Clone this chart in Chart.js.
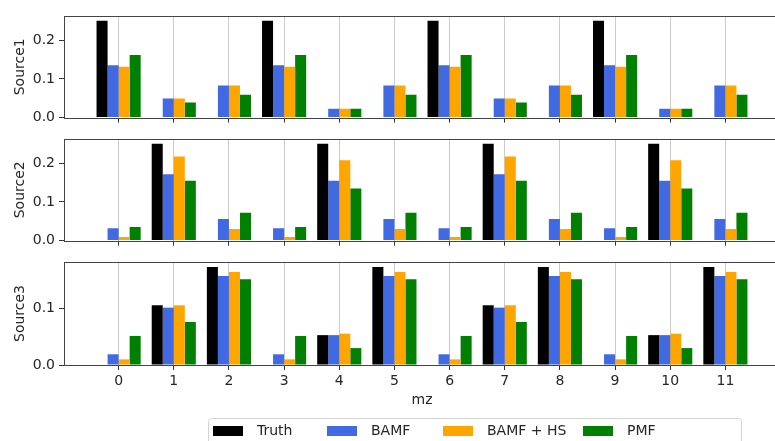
<!DOCTYPE html>
<html>
<head>
<meta charset="utf-8">
<script src="https://cdn.jsdelivr.net/npm/chart.js@4.4.1/dist/chart.umd.min.js"></script>
<style>
  html, body { margin: 0; padding: 0; width: 775px; height: 441px; overflow: hidden; background: #fff; }
  canvas { position: absolute; left: 0; display: block; }
  #chart1 { top: 0; }
  #chart2 { top: 123px; }
  #chart3 { top: 246px; }
</style>
</head>
<body>
<canvas id="chart1" width="790" height="130"></canvas>
<canvas id="chart2" width="790" height="130"></canvas>
<canvas id="chart3" width="790" height="195"></canvas>
<script>
'use strict';

// x categories (mz) and legend labels
const mz = [0, 1, 2, 3, 4, 5, 6, 7, 8, 9, 10, 11];
const seriesLabels = ['Truth', 'BAMF', 'BAMF + HS', 'PMF'];
const seriesColors = ['#000000', '#4169e1', '#ffa500', '#008000'];

// y tick labels
const yTicksWide = [0, 0.1, 0.2];
const yTicksShort = [0, 0.1];

// Source1
const source1Truth = [0.25, 0, 0, 0.25, 0, 0, 0.25, 0, 0, 0.25, 0, 0];
const source1Bamf = [0.135, 0.0495, 0.083, 0.135, 0.023, 0.083, 0.135, 0.0495, 0.083, 0.135, 0.023, 0.083];
const source1BamfHs = [0.1315, 0.0495, 0.083, 0.1315, 0.023, 0.083, 0.1315, 0.0495, 0.083, 0.1315, 0.023, 0.083];
const source1Pmf = [0.1615, 0.039, 0.059, 0.1615, 0.023, 0.059, 0.1615, 0.039, 0.059, 0.1615, 0.023, 0.059];

// Source2
const source2Truth = [0, 0.25, 0, 0, 0.25, 0, 0, 0.25, 0, 0, 0.25, 0];
const source2Bamf = [0.032, 0.1717, 0.0558, 0.032, 0.1545, 0.0558, 0.032, 0.1717, 0.0558, 0.032, 0.1545, 0.0558];
const source2BamfHs = [0.0094, 0.217, 0.030, 0.0094, 0.2077, 0.030, 0.0094, 0.217, 0.030, 0.0094, 0.2077, 0.030];
const source2Pmf = [0.035, 0.1545, 0.072, 0.035, 0.1348, 0.072, 0.035, 0.1545, 0.072, 0.035, 0.1348, 0.072];

// Source3
const source3Truth = [0, 0.106, 0.174, 0, 0.053, 0.174, 0, 0.106, 0.174, 0, 0.053, 0.174];
const source3Bamf = [0.019, 0.1018, 0.158, 0.019, 0.053, 0.158, 0.019, 0.1018, 0.158, 0.019, 0.053, 0.158];
const source3BamfHs = [0.010, 0.106, 0.165, 0.010, 0.0556, 0.165, 0.010, 0.106, 0.165, 0.010, 0.0556, 0.165];
const source3Pmf = [0.0515, 0.0763, 0.152, 0.0515, 0.030, 0.152, 0.0515, 0.0763, 0.152, 0.0515, 0.030, 0.152];

Chart.defaults.font.family = "'DejaVu Sans', sans-serif";
Chart.defaults.font.size = 14;
Chart.defaults.color = '#262626';

// box round the plot area, like the matplotlib spines
const framePlugin = {
  id: 'frame',
  afterDraw(chart) {
    const { ctx, chartArea: a } = chart;
    ctx.save();
    ctx.strokeStyle = '#444';
    ctx.lineWidth = 1;
    ctx.strokeRect(Math.round(a.left) + 0.5, Math.round(a.top) + 0.5,
      Math.round(a.right - a.left), Math.round(a.bottom - a.top));
    ctx.restore();
  }
};

// framed legend under the last panel (partly cut off at the bottom)
const legendPlugin = {
  id: 'boxLegend',
  afterDraw(chart) {
    const ctx = chart.ctx;
    const patchX = [213, 327, 443, 583];
    const midY = 185;
    ctx.save();
    ctx.beginPath();
    ctx.roundRect(208.5, 172.5, 533, 40, 3);
    ctx.fillStyle = 'rgba(255,255,255,0.8)';
    ctx.fill();
    ctx.strokeStyle = '#d4d4d4';
    ctx.lineWidth = 1;
    ctx.stroke();
    ctx.font = "14px 'DejaVu Sans', sans-serif";
    ctx.textBaseline = 'middle';
    ctx.textAlign = 'left';
    chart.data.datasets.forEach((ds, i) => {
      ctx.fillStyle = ds.backgroundColor;
      ctx.fillRect(patchX[i], midY - 5, 30, 10);
      ctx.fillStyle = '#262626';
      ctx.fillText(ds.label, patchX[i] + 44, midY);
    });
    ctx.restore();
  }
};

function buildDatasets(series) {
  return series.map((values, i) => ({
    label: seriesLabels[i],
    data: values,
    backgroundColor: seriesColors[i],
    borderWidth: 0,
    categoryPercentage: 0.8,
    barPercentage: 1.0
  }));
}

function makePanel(canvasId, title, series, yMax, yTicks, isBottom) {
  const ctx = document.getElementById(canvasId).getContext('2d');
  const plugins = [framePlugin];
  if (isBottom) {
    plugins.push(legendPlugin);
  }

  return new Chart(ctx, {
    type: 'bar',
    data: {
      labels: mz,
      datasets: buildDatasets(series)
    },
    plugins: plugins,
    options: {
      responsive: false,
      animation: false,
      devicePixelRatio: 1,
      layout: {
        padding: { top: 16, right: 10, bottom: isBottom ? 0 : 7, left: 0 }
      },
      plugins: {
        legend: { display: false },
        tooltip: { enabled: false }
      },
      scales: {
        x: {
          type: 'linear',
          min: -0.99,
          max: 11.99,
          offset: false,
          afterBuildTicks: axis => {
            axis.ticks = mz.map(v => ({ value: v }));
          },
          afterFit: axis => {
            axis.height = isBottom ? 76 : 5;
          },
          ticks: {
            display: isBottom,
            autoSkip: false,
            maxRotation: 0,
            padding: 3,
            callback: value => String(value)
          },
          grid: {
            offset: false,
            color: '#cccccc',
            lineWidth: 1,
            tickLength: 5,
            tickColor: '#333'
          },
          border: { display: false },
          title: {
            display: isBottom,
            text: 'mz',
            padding: { top: 0, bottom: 32 }
          }
        },
        y: {
          min: 0,
          max: yMax,
          afterBuildTicks: axis => {
            axis.ticks = yTicks.map(v => ({ value: v }));
          },
          afterFit: axis => {
            axis.width = 64;
          },
          ticks: {
            padding: 4,
            callback: value => value.toFixed(1)
          },
          grid: {
            drawOnChartArea: false,
            tickLength: 5,
            tickColor: '#333'
          },
          border: { display: false },
          title: {
            display: true,
            text: title,
            padding: { top: 12, bottom: 0 }
          }
        }
      }
    }
  });
}

makePanel('chart1', 'Source1', [source1Truth, source1Bamf, source1BamfHs, source1Pmf], 0.2625, yTicksWide, false);
makePanel('chart2', 'Source2', [source2Truth, source2Bamf, source2BamfHs, source2Pmf], 0.2625, yTicksWide, false);
makePanel('chart3', 'Source3', [source3Truth, source3Bamf, source3BamfHs, source3Pmf], 0.1828, yTicksShort, true);
</script>
</body>
</html>
